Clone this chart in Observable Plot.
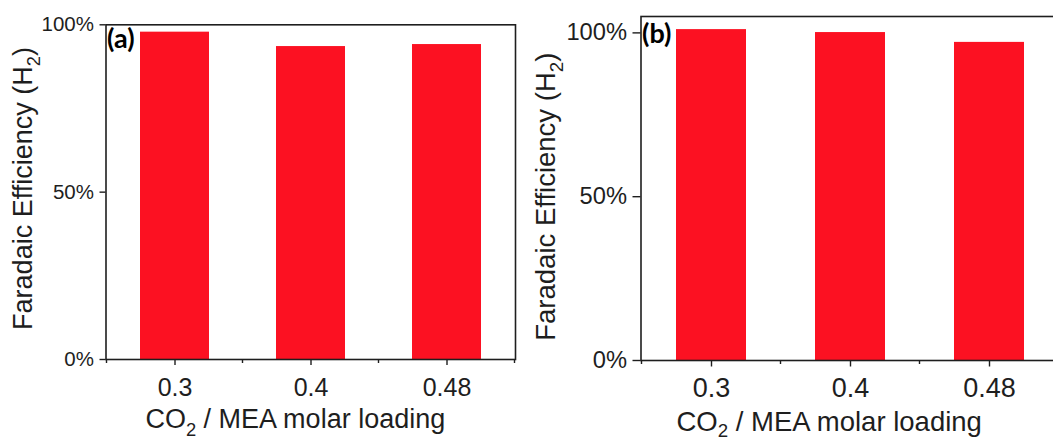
<!DOCTYPE html>
<html><head><meta charset="utf-8">
<script src="https://cdn.jsdelivr.net/npm/d3@7"></script>
<script src="https://cdn.jsdelivr.net/npm/@observablehq/plot@0.6"></script>
<style>
html,body{margin:0;padding:0;background:#fff;overflow:hidden}
#wrap{position:relative;width:1053px;height:439px;overflow:hidden;background:#fff}
#wrap > svg{position:absolute;top:0}
</style></head><body><div id="wrap"></div>
<script>
// ---- data ----
const loadings = ["0.3", "0.4", "0.48"];
const feA = [0.978, 0.935, 0.941];
const feB = [1.010, 1.001, 0.971];
const panelTags = ["(a)", "(b)"];
const yTicks = [0, 0.5, 1];
const xTitle = ["CO", "2", " / MEA molar loading"];
const yTitle = ["Faradaic Efficiency (H", "2", ")"];

const BAR = "#fc1122";
const INK = "#1e1e1e";
const FONT = "'Liberation Sans', Arial, sans-serif";
const TAGFONT = "Lato, 'Open Sans', sans-serif";

function minorTicks(len, sw) {
  return function (index, scales, values, dims) {
    const x = scales.x;
    const bw = x.bandwidth ? x.bandwidth() : 0;
    const st = x.step ? x.step() : bw;
    const dom = x.domain();
    const pos = dom.map(d => x(d) + bw / 2 - st / 2)
      .concat([x(dom[dom.length - 1]) + bw / 2 + st / 2]);
    const y0 = dims.height - dims.marginBottom;
    const g = d3.create("svg:g").attr("stroke", INK).attr("stroke-width", sw);
    g.selectAll("line").data(pos).join("line")
      .attr("x1", d => d).attr("x2", d => d)
      .attr("y1", y0).attr("y2", y0 + len);
    return g.node();
  };
}

function addTitle(svg, parts, x, y, size, rotate, subShift) {
  const t = d3.select(svg).append("text")
    .attr("transform", `translate(${x},${y})` + (rotate ? " rotate(-90)" : ""))
    .attr("text-anchor", "middle")
    .attr("fill", INK)
    .style("font-family", FONT)
    .style("font-size", size + "px");
  const sub = size * subShift;
  t.append("tspan").text(parts[0]);
  t.append("tspan").style("font-size", (size * 0.68) + "px").attr("dy", sub).text(parts[1]);
  t.append("tspan").attr("dy", -sub).text(parts[2]);
}

function panel(cfg) {
  const data = loadings.map((k, i) => ({loading: k, fe: cfg.values[i]}));
  const svg = Plot.plot({
    width: cfg.width,
    height: 439,
    marginLeft: cfg.ml, marginRight: cfg.mr, marginTop: cfg.mt, marginBottom: cfg.mb,
    style: `background:transparent;overflow:visible;max-width:none;color:${INK};font-family:${FONT};`,
    x: {domain: loadings, paddingInner: cfg.pi, paddingOuter: cfg.pi / 2,
        tickSize: cfg.xTickSize, tickPadding: cfg.xTickPad, label: null},
    y: {domain: cfg.yDomain, ticks: yTicks, tickFormat: d3.format(".0%"),
        tickSize: cfg.yTickSize, tickPadding: cfg.yTickPad, label: null},
    marks: [
      Plot.barY(data, {x: "loading", y: "fe", fill: BAR}),
      Plot.frame({stroke: INK, strokeWidth: 1.6}),
      minorTicks(cfg.minorLen, 1.4),
      Plot.text([cfg.tag], {
        text: d => d, frameAnchor: "top-left", dx: cfg.tagDx, dy: cfg.tagDy,
        textAnchor: "start", lineAnchor: "top",
        fontWeight: "bold", fontSize: cfg.tagSize, fontFamily: TAGFONT, fill: "#000"
      })
    ]
  });
  const s = d3.select(svg);
  s.selectAll('[aria-label^="x-axis"] text').style("font-size", cfg.xFont + "px").style("font-family", FONT);
  s.selectAll('[aria-label^="y-axis"] text').style("font-size", cfg.yFont + "px").style("font-family", FONT);
  s.selectAll('[aria-label^="x-axis"] line, [aria-label^="x-axis"] path, [aria-label^="y-axis"] line, [aria-label^="y-axis"] path')
    .style("stroke-width", "1.4px");
  addTitle(svg, yTitle, cfg.yTitleX, cfg.yTitleY, cfg.yTitleSize, true, 0.3);
  addTitle(svg, xTitle, cfg.xTitleX, cfg.xTitleY, cfg.xTitleSize, false, cfg.xSub);
  svg.style.left = cfg.left + "px";
  return svg;
}

const wrap = document.getElementById("wrap");
wrap.appendChild(panel({
  left: 0, width: 530, ml: 105.5, mr: 15, mt: 24.3, mb: 80,
  values: feA, yDomain: [0, 1], pi: 0.495, tag: panelTags[0],
  xTickSize: 6, xTickPad: 13, yTickSize: 6, yTickPad: 6, minorLen: 4,
  xFont: 25, yFont: 20.5, tagSize: 27, tagDx: 1, tagDy: 4,
  yTitleX: 32, yTitleY: 188.5, yTitleSize: 27,
  xTitleX: 295.3, xTitleY: 427.5, xTitleSize: 27, xSub: 0.3
}));
wrap.appendChild(panel({
  left: 530, width: 550, ml: 110.5, mr: 20.4, mt: 16, mb: 79,
  values: feB, yDomain: [0, 1.05], pi: 0.5, tag: panelTags[1],
  xTickSize: 6.5, xTickPad: 10.5, yTickSize: 8, yTickPad: 6, minorLen: 4,
  xFont: 27, yFont: 23.7, tagSize: 27, tagDx: 1, tagDy: 7,
  yTitleX: 25, yTitleY: 196.7, yTitleSize: 27.5,
  xTitleX: 299.2, xTitleY: 431, xTitleSize: 27.5, xSub: 0.22
}));
</script></body></html>
